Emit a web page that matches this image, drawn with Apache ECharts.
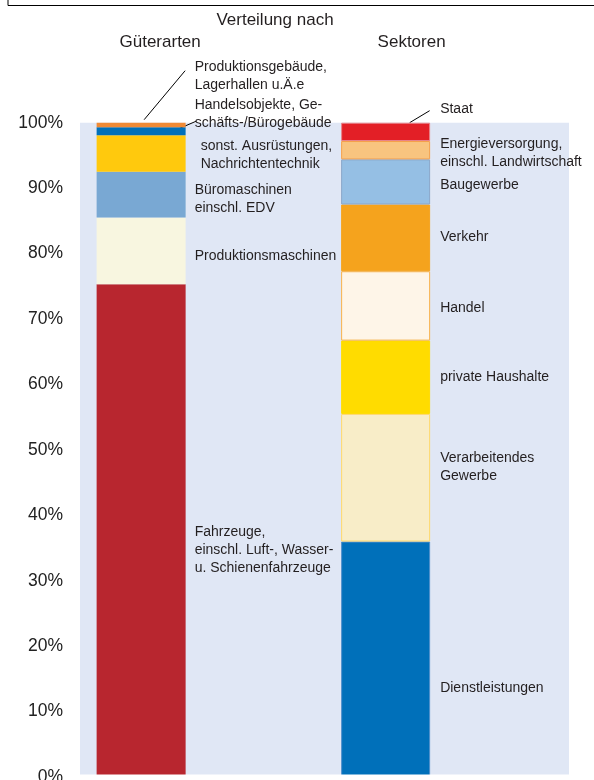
<!DOCTYPE html>
<html>
<head>
<meta charset="utf-8">
<script src="https://cdn.jsdelivr.net/npm/echarts@6/dist/echarts.min.js"></script>
<style>
html,body{margin:0;padding:0;background:#fff;overflow:hidden;}
#chart{width:594px;height:780px;}
</style>
</head>
<body>
<div id="chart"></div>
<script>
// ---- data ----
const categories = ['Güterarten', '', 'Sektoren', ''];
const gueterLabels = [
  'Fahrzeuge,\neinschl. Luft-, Wasser-\nu. Schienenfahrzeuge',
  'Produktionsmaschinen',
  'Büromaschinen\neinschl. EDV',
  'sonst. Ausrüstungen,\nNachrichtentechnik',
  'Handelsobjekte, Ge-\nschäfts-/Bürogebäude',
  'Produktionsgebäude,\nLagerhallen u.Ä.e'
];
const gueterValues = [75.3, 10.2, 7.0, 5.6, 1.2, 0.7];
const sektorLabels = [
  'Dienstleistungen',
  'Verarbeitendes\nGewerbe',
  'private Haushalte',
  'Handel',
  'Verkehr',
  'Baugewerbe',
  'Energieversorgung,\neinschl. Landwirtschaft',
  'Staat'
];
const sektorValues = [36.0, 19.5, 11.2, 10.6, 10.2, 6.9, 2.8, 2.8];
const yTickValues = [0, 10, 20, 30, 40, 50, 60, 70, 80, 90, 100];
const titleTop = 'Verteilung nach';

// ---- styles ----
const gueterColors = ['#B8262F', '#F8F6E0', '#79A8D3', '#FFC90D', '#0070BA', '#F08A35'];
const gueterLabelOffsets = [[0, 19], [0, 5], [0, 4], [6, 2], [0, -17], [0, -49]];
const sektorColors = ['#0070BA', '#F8EDC8', '#FFDC00', '#FEF5E8', '#F5A31D', '#95BFE4', '#F8C47F', '#E31F26'];
const sektorBorders = ['#4F8FCC', '#FFD86A', '#FFDC00', '#F8B24A', '#F5A31D', '#8AA6C8', '#F5A04A', '#E8848A'];
const sektorLabelOffsets = [[0, 29], [0, -10.5], [0, 0], [0, 2], [0, -1], [0, 3], [0, 3], [0, -23]];
const FONT = '"Liberation Sans", Arial, Helvetica, sans-serif';
const TXT = '#231F20';

const chart = echarts.init(document.getElementById('chart'), null, {renderer: 'canvas'});

function mkSeries(names, values, idx, colors, offsets, borders, distance) {
  return values.map((v, i) => {
    const data = categories.map((c, k) => (k === idx ? v : '-'));
    return {
      type: 'bar',
      name: names[i],
      stack: 'total',
      barWidth: 89,
      data: data,
      itemStyle: {
        color: colors[i],
        borderColor: borders ? borders[i] : colors[i],
        borderWidth: borders ? 1 : 0
      },
      label: {
        show: true,
        position: 'right',
        distance: distance,
        offset: offsets[i],
        formatter: () => names[i],
        fontSize: 14,
        lineHeight: 18,
        color: TXT,
        fontFamily: FONT,
        align: 'left'
      },
      emphasis: {disabled: true},
      animation: false
    };
  });
}

const series = [].concat(
  mkSeries(gueterLabels, gueterValues, 0, gueterColors, gueterLabelOffsets, null, 9),
  mkSeries(sektorLabels, sektorValues, 2, sektorColors, sektorLabelOffsets, sektorBorders, 10)
);

chart.setOption({
  animation: false,
  backgroundColor: '#ffffff',
  grid: {
    left: 80, right: 25, top: 122.7, bottom: 2.9,
    containLabel: false,
    outerBoundsMode: 'none',
    show: true, backgroundColor: '#E0E7F5', borderWidth: 0
  },
  xAxis: {
    type: 'category',
    data: categories,
    axisLabel: {show: false},
    axisLine: {show: false},
    axisTick: {show: false},
    splitLine: {show: false}
  },
  yAxis: {
    type: 'value',
    min: yTickValues[0],
    max: yTickValues[yTickValues.length - 1],
    interval: yTickValues[1] - yTickValues[0],
    axisLabel: {
      formatter: '{value}%',
      fontSize: 17.5,
      color: '#222',
      fontFamily: FONT,
      margin: 17
    },
    axisLine: {show: false},
    axisTick: {show: false},
    splitLine: {show: false}
  },
  series: series
});

// annotations: titles, frame line, leader lines, bottom crop strip
const pTop0 = chart.convertToPixel({xAxisIndex: 0, yAxisIndex: 0}, [0, 100]);
const pTop2 = chart.convertToPixel({xAxisIndex: 0, yAxisIndex: 0}, [2, 100]);
const gSum = gueterValues.reduce((a, b) => a + b, 0);
const pBlue = chart.convertToPixel({xAxisIndex: 0, yAxisIndex: 0},
  [0, gSum - gueterValues[gueterValues.length - 1] - gueterValues[gueterValues.length - 2] / 2]);

const lineStyle = {stroke: '#000', lineWidth: 1};
chart.setOption({
  graphic: [
    {type: 'rect', shape: {x: 75, y: 774.4, width: 520, height: 8}, style: {fill: '#ffffff'}, z: 100, silent: true},
    {type: 'polyline', shape: {points: [[8, 0], [8, 5.5], [594, 5.5]]}, style: {stroke: '#000', lineWidth: 1, fill: null}, silent: true},
    {type: 'text', x: 275, y: 20, style: {text: titleTop, font: '17px ' + FONT, fill: TXT, textAlign: 'center', textVerticalAlign: 'middle'}},
    {type: 'text', x: pTop0[0] + 19, y: 42, style: {text: categories[0], font: '17px ' + FONT, fill: TXT, textAlign: 'center', textVerticalAlign: 'middle'}},
    {type: 'text', x: pTop2[0] + 26, y: 42, style: {text: categories[2], font: '17px ' + FONT, fill: TXT, textAlign: 'center', textVerticalAlign: 'middle'}},
    {type: 'line', shape: {x1: pTop0[0] + 3, y1: pTop0[1] - 3, x2: pTop0[0] + 44, y2: pTop0[1] - 52}, style: lineStyle, silent: true},
    {type: 'line', shape: {x1: pTop0[0] + 32, y1: pBlue[1], x2: pTop0[0] + 55, y2: pBlue[1] - 10}, style: lineStyle, silent: true},
    {type: 'line', shape: {x1: pTop2[0] + 24, y1: pTop2[1], x2: pTop2[0] + 44, y2: pTop2[1] - 12}, style: lineStyle, silent: true}
  ]
});
</script>
</body>
</html>
